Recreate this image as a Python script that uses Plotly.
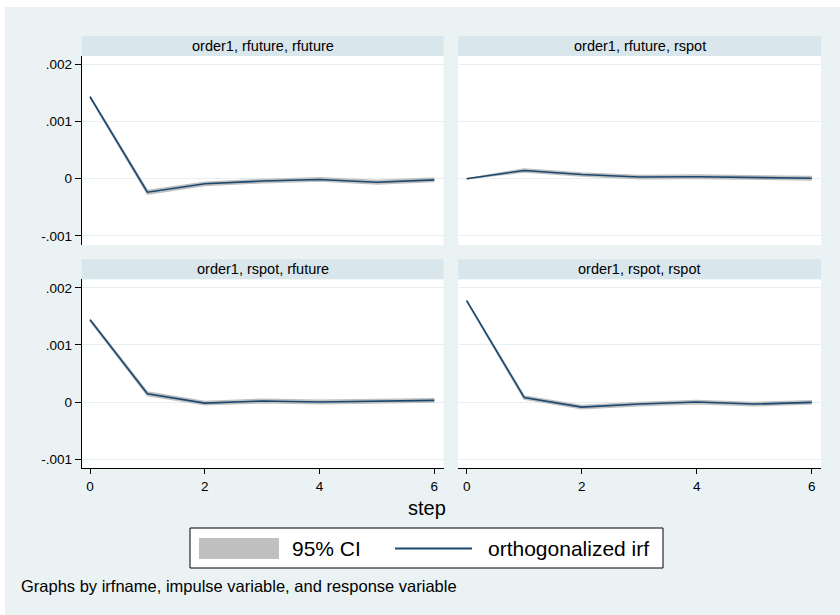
import plotly.graph_objects as go

W, H = 840, 615

steps = [0, 1, 2, 3, 4, 5, 6]
x_ticks = [0, 2, 4, 6]
y_ticks = [-0.001, 0.0, 0.001, 0.002]
y_tick_text = ["-.001", "0", ".001", ".002"]

panel_titles = [
    "order1, rfuture, rfuture",
    "order1, rfuture, rspot",
    "order1, rspot, rfuture",
    "order1, rspot, rspot",
]

# orthogonalized irf values per panel
irf_ff = [0.001436, -0.000235, -0.000088, -0.000040, -0.000012, -0.000060, -0.000020]
irf_fs = [0.000000, 0.000145, 0.000075, 0.000030, 0.000035, 0.000025, 0.000010]
irf_sf = [0.001440, 0.000145, -0.000018, 0.000018, 0.000000, 0.000015, 0.000030]
irf_ss = [0.001776, 0.000080, -0.000088, -0.000035, 0.000000, -0.000035, -0.000006]

# 95% CI lower / upper per panel
lo_ff = [0.001426, -0.000268, -0.000118, -0.000070, -0.000040, -0.000090, -0.000050]
hi_ff = [0.001446, -0.000205, -0.000060, -0.000012, 0.000018, -0.000030, 0.000012]
lo_fs = [0.000000, 0.000118, 0.000048, 0.000002, 0.000006, -0.000004, -0.000020]
hi_fs = [0.000000, 0.000172, 0.000102, 0.000058, 0.000064, 0.000054, 0.000040]
lo_sf = [0.001425, 0.000115, -0.000048, -0.000012, -0.000030, -0.000015, 0.000000]
hi_sf = [0.001455, 0.000175, 0.000012, 0.000048, 0.000030, 0.000045, 0.000060]
lo_ss = [0.001770, 0.000052, -0.000118, -0.000064, -0.000028, -0.000064, -0.000035]
hi_ss = [0.001782, 0.000108, -0.000060, -0.000006, 0.000028, -0.000006, 0.000022]

legend_labels = ["95% CI", "orthogonalized irf"]
note_text = "Graphs by irfname, impulse variable, and response variable"
x_title = "step"

BG = "#EAF2F3"
STRIP = "#D9E6EB"
NAVY = "#1A476F"
CI = "#C0C0C0"
GRID = "#E6EFF1"
FONT = "Liberation Sans, Arial, sans-serif"

def px_x(p):
    return p / W

def px_y(p):
    return 1 - p / H

# panel geometry (pixels)
col_x = [(81.7, 443.5), (458.3, 821.0)]
row_y = [(56.0, 245.0), (279.3, 468.3)]
strip_h = 20.0

panels = [
    (0, 0, irf_ff, lo_ff, hi_ff),
    (0, 1, irf_fs, lo_fs, hi_fs),
    (1, 0, irf_sf, lo_sf, hi_sf),
    (1, 1, irf_ss, lo_ss, hi_ss),
]

fig = go.Figure()
shapes = []
annotations = []
layout_axes = {}

for i, (r, c, irf, lo, hi) in enumerate(panels):
    n = i + 1
    xa = "x" if n == 1 else f"x{n}"
    ya = "y" if n == 1 else f"y{n}"
    fig.add_trace(go.Scatter(x=steps, y=lo, xaxis=xa, yaxis=ya, mode="lines",
                             line=dict(width=1.5, color=CI), showlegend=False,
                             hoverinfo="skip"))
    fig.add_trace(go.Scatter(x=steps, y=hi, xaxis=xa, yaxis=ya, mode="lines",
                             line=dict(width=1.5, color=CI), fill="tonexty",
                             fillcolor=CI, showlegend=False, hoverinfo="skip"))
    fig.add_trace(go.Scatter(x=steps, y=irf, xaxis=xa, yaxis=ya, mode="lines",
                             line=dict(width=1.6, color=NAVY), showlegend=False))

    x0, x1 = col_x[c]
    y0, y1 = row_y[r]
    xkey = "xaxis" if n == 1 else f"xaxis{n}"
    ykey = "yaxis" if n == 1 else f"yaxis{n}"
    bottom = (r == 1)
    left = (c == 0)
    layout_axes[xkey] = dict(
        domain=[px_x(x0), px_x(x1)], anchor=ya, range=[-0.145, 6.16],
        showgrid=False, zeroline=False,
        showline=bottom, linecolor="black", linewidth=1,
        ticks="outside" if bottom else "", ticklen=5, tickcolor="black",
        tickvals=x_ticks, showticklabels=bottom,
        tickfont=dict(size=13.5, color="black", family=FONT),
    )
    layout_axes[ykey] = dict(
        domain=[px_y(y1), px_y(y0)], anchor=xa, range=[-0.00116, 0.00215],
        showgrid=True, gridcolor=GRID, gridwidth=1, zeroline=False,
        showline=left, linecolor="black", linewidth=1,
        ticks="outside" if left else "", ticklen=6, tickcolor="black",
        tickvals=y_ticks, ticktext=y_tick_text, showticklabels=left,
        tickfont=dict(size=13.5, color="black", family=FONT),
    )
    # strip
    shapes.append(dict(type="rect", xref="paper", yref="paper",
                       x0=px_x(x0), x1=px_x(x1), y0=px_y(y0), y1=px_y(y0 - strip_h),
                       fillcolor=STRIP, line=dict(width=0), layer="below"))
    annotations.append(dict(xref="paper", yref="paper", x=px_x((x0 + x1) / 2),
                            y=px_y(y0 - strip_h / 2), text=panel_titles[i],
                            showarrow=False, xanchor="center", yanchor="middle",
                            font=dict(size=14.5, color="black", family=FONT)))

# white border top and left
shapes.append(dict(type="rect", xref="paper", yref="paper", x0=0, x1=1,
                   y0=px_y(7), y1=1, fillcolor="white", line=dict(width=0), layer="below"))
shapes.append(dict(type="rect", xref="paper", yref="paper", x0=0, x1=px_x(5),
                   y0=0, y1=1, fillcolor="white", line=dict(width=0), layer="below"))

# legend box
shapes.append(dict(type="rect", xref="paper", yref="paper", x0=px_x(190), x1=px_x(663),
                   y0=px_y(568), y1=px_y(528), fillcolor="white",
                   line=dict(color="black", width=1)))
shapes.append(dict(type="rect", xref="paper", yref="paper", x0=px_x(199), x1=px_x(279),
                   y0=px_y(559), y1=px_y(538), fillcolor=CI, line=dict(width=0)))
shapes.append(dict(type="line", xref="paper", yref="paper", x0=px_x(395), x1=px_x(472),
                   y0=px_y(548.5), y1=px_y(548.5), line=dict(color=NAVY, width=2)))
annotations.append(dict(xref="paper", yref="paper", x=px_x(290), y=px_y(548.5),
                        text=legend_labels[0], showarrow=False, xanchor="left",
                        yanchor="middle", font=dict(size=21, color="black", family=FONT)))
annotations.append(dict(xref="paper", yref="paper", x=px_x(486), y=px_y(548.5),
                        text=legend_labels[1], showarrow=False, xanchor="left",
                        yanchor="middle", font=dict(size=21, color="black", family=FONT)))

# x title and note
annotations.append(dict(xref="paper", yref="paper", x=px_x(427), y=px_y(508),
                        text=x_title, showarrow=False, xanchor="center",
                        yanchor="middle", font=dict(size=20, color="black", family=FONT)))
annotations.append(dict(xref="paper", yref="paper", x=px_x(19), y=px_y(586),
                        text=note_text, showarrow=False, xanchor="left",
                        yanchor="middle", font=dict(size=16.5, color="black", family=FONT)))

fig.update_layout(
    width=W, height=H,
    margin=dict(l=0, r=0, t=0, b=0),
    paper_bgcolor=BG, plot_bgcolor="white",
    showlegend=False,
    shapes=shapes, annotations=annotations,
    font=dict(family=FONT, color="black"),
    **layout_axes,
)

fig.write_html("out.html",
               config={"displayModeBar": False},
               post_script="document.body.style.margin='0';document.body.style.overflow='hidden';")
